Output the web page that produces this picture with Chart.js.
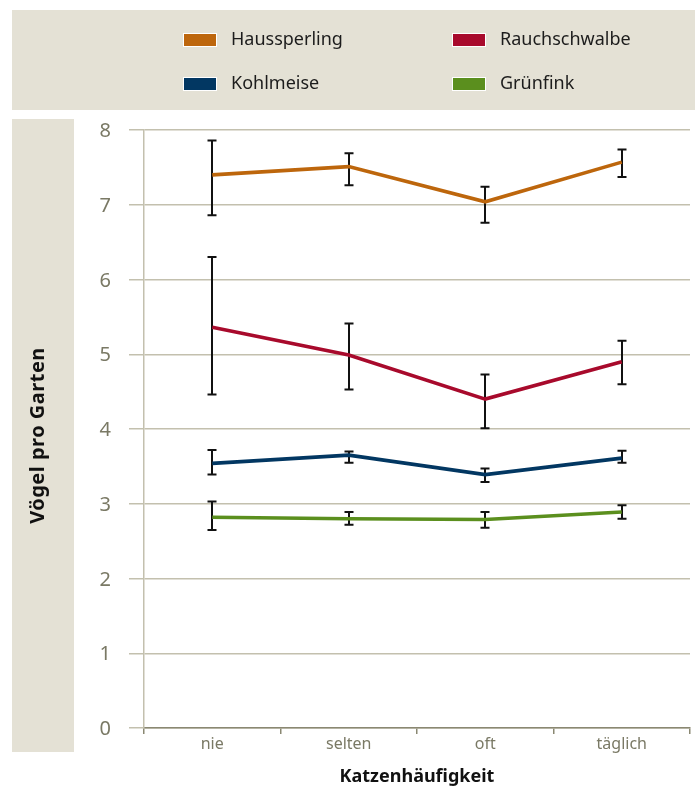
<!DOCTYPE html>
<html lang="de">
<head>
<meta charset="utf-8">
<title>Vögel pro Garten nach Katzenhäufigkeit</title>
<script src="https://cdn.jsdelivr.net/npm/chart.js@4/dist/chart.umd.min.js"></script>
<style>
  html, body { margin: 0; padding: 0; background: #ffffff; }
  #wrap { width: 695px; height: 794px; }
</style>
</head>
<body>
<div id="wrap"><canvas id="chart" width="695" height="794"></canvas></div>
<script>
// Categories (how often cats visit the garden)
const categories = ['nie', 'selten', 'oft', 'täglich'];

// Mean number of birds per garden, with lower / upper error bounds
const haussperling     = [7.40, 7.51, 7.04, 7.57];
const haussperlingLow  = [6.86, 7.26, 6.76, 7.37];
const haussperlingHigh = [7.86, 7.69, 7.24, 7.74];

const rauchschwalbe     = [5.36, 4.99, 4.40, 4.90];
const rauchschwalbeLow  = [4.46, 4.53, 4.01, 4.60];
const rauchschwalbeHigh = [6.30, 5.41, 4.73, 5.18];

const kohlmeise     = [3.54, 3.65, 3.39, 3.61];
const kohlmeiseLow  = [3.39, 3.55, 3.29, 3.55];
const kohlmeiseHigh = [3.72, 3.70, 3.47, 3.71];

const gruenfink     = [2.82, 2.80, 2.79, 2.89];
const gruenfinkLow  = [2.65, 2.72, 2.68, 2.80];
const gruenfinkHigh = [3.03, 2.89, 2.89, 2.98];

const seriesNames  = ['Haussperling', 'Rauchschwalbe', 'Kohlmeise', 'Grünfink'];
const seriesColors = ['#bd660c', '#a80a2c', '#023762', '#5b8f1e'];

const yTitle = 'Vögel pro Garten';
const xTitle = 'Katzenhäufigkeit';

const FONT = '"Noto Sans", "Source Sans Pro", sans-serif';
const PANEL = '#e4e1d5';
const GRID = '#c3c0ae';
const AXIS = '#8a8872';
const TICK_TEXT = '#7a7965';

function makeDataset(i, values, low, high) {
  return {
    label: seriesNames[i],
    data: values,
    errLow: low,
    errHigh: high,
    borderColor: seriesColors[i],
    backgroundColor: seriesColors[i],
    borderWidth: 3.6,
    pointRadius: 0,
    pointHoverRadius: 0,
    tension: 0,
    fill: false
  };
}

// Beige panels, the two-column legend and the rotated y title
const panelsPlugin = {
  id: 'panels',
  beforeDraw(chart) {
    const ctx = chart.ctx;
    ctx.save();
    ctx.fillStyle = PANEL;
    ctx.fillRect(12, 10, chart.width - 12, 100);
    ctx.fillRect(12, 119, 62, 633);

    // legend
    const colX = [183, 452];
    const rowY = [40, 84];
    ctx.font = '18px ' + FONT;
    ctx.textBaseline = 'middle';
    ctx.textAlign = 'left';
    chart.data.datasets.forEach((ds, i) => {
      const x = colX[i % 2];
      const y = rowY[Math.floor(i / 2)];
      ctx.fillStyle = ds.borderColor;
      ctx.fillRect(x, y - 7, 34, 14);
      ctx.strokeStyle = '#ffffff';
      ctx.lineWidth = 1;
      ctx.strokeRect(x + 0.5, y - 6.5, 33, 13);
      ctx.fillStyle = '#1c1c1c';
      ctx.fillText(ds.label, x + 48, y);
    });

    // y title, centred in its panel
    ctx.translate(38, 119 + 633 / 2);
    ctx.rotate(-Math.PI / 2);
    ctx.font = 'bold 20px ' + FONT;
    if ('letterSpacing' in ctx) ctx.letterSpacing = '0.5px';
    ctx.fillStyle = '#111111';
    ctx.textAlign = 'center';
    ctx.textBaseline = 'middle';
    ctx.fillText(yTitle, 0, 0);
    ctx.restore();
  }
};

// Vertical error bars with caps, drawn under the lines
const errorBarPlugin = {
  id: 'errorBars',
  beforeDatasetsDraw(chart) {
    const ctx = chart.ctx;
    const yScale = chart.scales.y;
    ctx.save();
    ctx.strokeStyle = '#111111';
    ctx.lineWidth = 2;
    chart.data.datasets.forEach((ds, i) => {
      const meta = chart.getDatasetMeta(i);
      meta.data.forEach((pt, j) => {
        const x = Math.round(pt.x);
        const yLo = yScale.getPixelForValue(ds.errLow[j]);
        const yHi = yScale.getPixelForValue(ds.errHigh[j]);
        const cap = 4.5;
        ctx.beginPath();
        ctx.moveTo(x, yHi);
        ctx.lineTo(x, yLo);
        ctx.moveTo(x - cap, yHi);
        ctx.lineTo(x + cap, yHi);
        ctx.moveTo(x - cap, yLo);
        ctx.lineTo(x + cap, yLo);
        ctx.stroke();
      });
    });
    ctx.restore();
  }
};

new Chart(document.getElementById('chart'), {
  type: 'line',
  data: {
    labels: categories,
    datasets: [
      makeDataset(0, haussperling, haussperlingLow, haussperlingHigh),
      makeDataset(1, rauchschwalbe, rauchschwalbeLow, rauchschwalbeHigh),
      makeDataset(2, kohlmeise, kohlmeiseLow, kohlmeiseHigh),
      makeDataset(3, gruenfink, gruenfinkLow, gruenfinkHigh)
    ]
  },
  options: {
    responsive: false,
    animation: false,
    devicePixelRatio: 1,
    layout: { padding: { top: 130, right: 5, left: 0, bottom: 0 } },
    plugins: {
      legend: { display: false },
      tooltip: { enabled: false }
    },
    scales: {
      x: {
        type: 'category',
        offset: true,
        afterFit(scale) { scale.height = 66; },
        grid: {
          offset: true,
          drawOnChartArea: false,
          drawTicks: true,
          tickLength: 6,
          color: AXIS,
          lineWidth: 1.5
        },
        border: { display: true, color: AXIS, width: 1.5 },
        ticks: {
          color: TICK_TEXT,
          font: { family: FONT, size: 16 },
          padding: 1,
          maxRotation: 0
        },
        title: {
          display: true,
          text: xTitle,
          color: '#111111',
          font: { family: FONT, size: 18, weight: 'bold' },
          padding: { top: 0, bottom: 6 }
        }
      },
      y: {
        min: 0,
        max: 8,
        afterFit(scale) { scale.width = 144; },
        ticks: {
          stepSize: 1,
          color: TICK_TEXT,
          font: { family: FONT, size: 20 },
          padding: 18,
          labelOffset: 1.5
        },
        grid: {
          color: GRID,
          lineWidth: 1.5,
          drawTicks: true,
          tickLength: 15
        },
        border: { display: true, color: GRID, width: 1.5 }
      }
    }
  },
  plugins: [panelsPlugin, errorBarPlugin]
});
</script>
</body>
</html>
